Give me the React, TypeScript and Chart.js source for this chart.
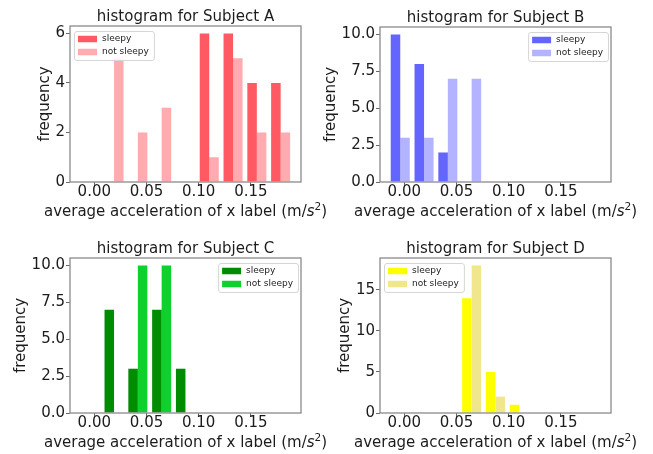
import React, { useEffect, useRef } from 'react';
import { Chart, registerables } from 'chart.js';

Chart.register(...registerables);

// ---- data ----
const binCenters = [-0.0039, 0.0189, 0.0417, 0.0645, 0.0873, 0.1101, 0.1329, 0.1557, 0.1785];
const seriesLabels = ['sleepy', 'not sleepy'];
const xTickValues = [0, 0.05, 0.1, 0.15];
const xRange = [-0.0233, 0.198];

const subjectA_sleepy = [0, 0, 0, 0, 0, 6, 6, 4, 4];
const subjectA_notSleepy = [0, 5, 2, 3, 0, 1, 5, 2, 2];
const subjectB_sleepy = [10, 8, 2, 0, 0, 0, 0, 0, 0];
const subjectB_notSleepy = [3, 3, 7, 7, 0, 0, 0, 0, 0];
const subjectC_sleepy = [0, 7, 3, 7, 3, 0, 0, 0, 0];
const subjectC_notSleepy = [0, 0, 10, 10, 0, 0, 0, 0, 0];
const subjectD_sleepy = [0, 0, 0, 14, 5, 1, 0, 0, 0];
const subjectD_notSleepy = [0, 0, 0, 18, 2, 0, 0, 0, 0];

const yTicksA = [0, 2, 4, 6];
const yTicksB = [0, 2.5, 5, 7.5, 10];
const yTicksC = [0, 2.5, 5, 7.5, 10];
const yTicksD = [0, 5, 10, 15];

const FONT = '"DejaVu Sans", sans-serif';
const TEXT = '#1c1c1c';

function drawXTitle(ctx: CanvasRenderingContext2D, cx: number, cy: number) {
  const parts = [
    { t: 'average acceleration of x label (m/', f: `15px ${FONT}`, dy: 0 },
    { t: 's', f: `italic 15px ${FONT}`, dy: 0 },
    { t: '2', f: `10.5px ${FONT}`, dy: -6 },
    { t: ')', f: `15px ${FONT}`, dy: 0 },
  ];
  let total = 0;
  const widths = parts.map((p) => {
    ctx.font = p.f;
    const w = ctx.measureText(p.t).width;
    total += w;
    return w;
  });
  let x = cx - total / 2;
  const base = cy + 4.7;
  ctx.textAlign = 'left';
  ctx.textBaseline = 'alphabetic';
  parts.forEach((p, i) => {
    ctx.font = p.f;
    ctx.fillText(p.t, x, base + p.dy);
    x += widths[i];
  });
}

const decorPlugin = {
  id: 'decor',
  afterDraw(chart: any, _args: any, opts: any) {
    const { ctx, chartArea: ca } = chart;
    ctx.save();
    // frame (spines)
    ctx.strokeStyle = '#8a8a8a';
    ctx.lineWidth = 1.3;
    ctx.strokeRect(ca.left, ca.top, ca.right - ca.left, ca.bottom - ca.top);
    const cx = (ca.left + ca.right) / 2;
    // title
    ctx.fillStyle = TEXT;
    ctx.font = `15px ${FONT}`;
    ctx.textAlign = 'center';
    ctx.textBaseline = 'middle';
    ctx.fillText(opts.title, cx, ca.top - 9);
    // x title
    drawXTitle(ctx, cx, ca.bottom + 29.5);
    // y title
    const yScale = chart.scales.y;
    ctx.font = `15px ${FONT}`;
    let widest = 0;
    for (const t of yScale.ticks) widest = Math.max(widest, ctx.measureText(String(t.label)).width);
    const yx = ca.left - 5 - widest - 10.5;
    ctx.save();
    ctx.translate(yx, (ca.top + ca.bottom) / 2);
    ctx.rotate(-Math.PI / 2);
    ctx.textAlign = 'center';
    ctx.textBaseline = 'middle';
    ctx.fillText('frequency', 0, 0);
    ctx.restore();
    // legend
    ctx.font = `9px ${FONT}`;
    const ds = chart.data.datasets;
    let tw = 0;
    for (const d of ds) tw = Math.max(tw, ctx.measureText(d.label).width);
    const pad = 4, patchW = 19, gap = 5;
    const w = pad + patchW + gap + tw + pad + 1;
    const h = 29;
    const bx = opts.legendSide === 'left' ? ca.left + 4 : ca.right - 3 - w;
    const by = ca.top + 5;
    ctx.beginPath();
    (ctx as any).roundRect(bx + 0.5, by + 0.5, w, h, 2.5);
    ctx.fillStyle = 'rgba(255,255,255,0.85)';
    ctx.fill();
    ctx.strokeStyle = '#d6d6d6';
    ctx.lineWidth = 1;
    ctx.stroke();
    ds.forEach((d: any, i: number) => {
      const yc = by + 8 + i * 13;
      ctx.fillStyle = d.backgroundColor;
      ctx.fillRect(bx + pad, yc - 3.25, patchW, 6.5);
      ctx.fillStyle = TEXT;
      ctx.textAlign = 'left';
      ctx.textBaseline = 'middle';
      ctx.fillText(d.label, bx + pad + patchW + gap, yc);
    });
    ctx.restore();
  },
};

type PanelProps = {
  left: number;
  top: number;
  width: number;
  height: number;
  area: { left: number; top: number; right: number; bottom: number };
  title: string;
  sleepy: number[];
  notSleepy: number[];
  colors: string[];
  yMax: number;
  yTicks: number[];
  yDecimals: number;
  legendSide: 'left' | 'right';
};

function Panel(p: PanelProps) {
  const ref = useRef<HTMLCanvasElement | null>(null);
  useEffect(() => {
    if (!ref.current) return;
    const grid = {
      display: true,
      drawOnChartArea: false,
      drawTicks: true,
      tickLength: 4,
      color: '#6a6a6a',
      lineWidth: 1,
      offset: false,
    };
    const chart = new Chart(ref.current, {
      type: 'bar',
      data: {
        datasets: [
          {
            label: seriesLabels[0],
            data: binCenters.map((x, i) => ({ x, y: p.sleepy[i] })),
            backgroundColor: p.colors[0],
            borderWidth: 0,
            categoryPercentage: 0.8,
            barPercentage: 1.0,
          },
          {
            label: seriesLabels[1],
            data: binCenters.map((x, i) => ({ x, y: p.notSleepy[i] })),
            backgroundColor: p.colors[1],
            borderWidth: 0,
            categoryPercentage: 0.8,
            barPercentage: 1.0,
          },
        ],
      } as any,
      options: {
        responsive: false,
        animation: false,
        events: [],
        layout: {
          padding: { left: 0, top: p.area.top, right: p.width - p.area.right, bottom: 0 },
        },
        plugins: {
          legend: { display: false },
          title: { display: false },
          tooltip: { enabled: false },
          decor: { title: p.title, legendSide: p.legendSide },
        } as any,
        scales: {
          x: {
            type: 'linear',
            min: xRange[0],
            max: xRange[1],
            offset: false,
            grid,
            border: { display: false },
            ticks: {
              font: { family: FONT, size: 15, lineHeight: 1 },
              color: TEXT,
              padding: -1,
              maxRotation: 0,
              autoSkip: false,
              callback: (v: any) => Number(v).toFixed(2),
            },
            afterBuildTicks: (s: any) => {
              s.ticks = xTickValues.map((v) => ({ value: v }));
            },
            afterFit: (s: any) => {
              s.height = p.height - p.area.bottom;
            },
          },
          y: {
            type: 'linear',
            min: 0,
            max: p.yMax,
            grid,
            border: { display: false },
            ticks: {
              font: { family: FONT, size: 15 },
              color: TEXT,
              padding: 1,
              callback: (v: any) => Number(v).toFixed(p.yDecimals),
            },
            afterBuildTicks: (s: any) => {
              s.ticks = p.yTicks.map((v) => ({ value: v }));
            },
            afterFit: (s: any) => {
              s.width = p.area.left;
            },
          },
        } as any,
      },
      plugins: [decorPlugin as any],
    });
    return () => chart.destroy();
  }, []);
  return (
    <canvas
      ref={ref}
      width={p.width}
      height={p.height}
      style={{ position: 'absolute', left: p.left, top: p.top, width: p.width, height: p.height }}
    />
  );
}

export default function App() {
  return (
    <div style={{ position: 'absolute', left: 0, top: 0, width: 653, height: 454, background: '#ffffff', overflow: 'hidden' }}>
      <Panel
        left={0} top={0} width={340} height={227}
        area={{ left: 70, top: 26, right: 301, bottom: 182 }}
        title="histogram for Subject A"
        sleepy={subjectA_sleepy} notSleepy={subjectA_notSleepy}
        colors={['#ff5a63', '#ffabb0']}
        yMax={6.3} yTicks={yTicksA} yDecimals={0} legendSide="left"
      />
      <Panel
        left={322} top={0} width={331} height={227}
        area={{ left: 58, top: 27, right: 289, bottom: 182 }}
        title="histogram for Subject B"
        sleepy={subjectB_sleepy} notSleepy={subjectB_notSleepy}
        colors={['#6464ff', '#b3b3ff']}
        yMax={10.5} yTicks={yTicksB} yDecimals={1} legendSide="right"
      />
      <Panel
        left={0} top={227} width={340} height={227}
        area={{ left: 70, top: 31, right: 301, bottom: 186 }}
        title="histogram for Subject C"
        sleepy={subjectC_sleepy} notSleepy={subjectC_notSleepy}
        colors={['#008c00', '#10d030']}
        yMax={10.5} yTicks={yTicksC} yDecimals={1} legendSide="right"
      />
      <Panel
        left={322} top={227} width={331} height={227}
        area={{ left: 58, top: 31, right: 289, bottom: 186 }}
        title="histogram for Subject D"
        sleepy={subjectD_sleepy} notSleepy={subjectD_notSleepy}
        colors={['#ffff00', '#f0e68c']}
        yMax={18.9} yTicks={yTicksD} yDecimals={0} legendSide="left"
      />
    </div>
  );
}
